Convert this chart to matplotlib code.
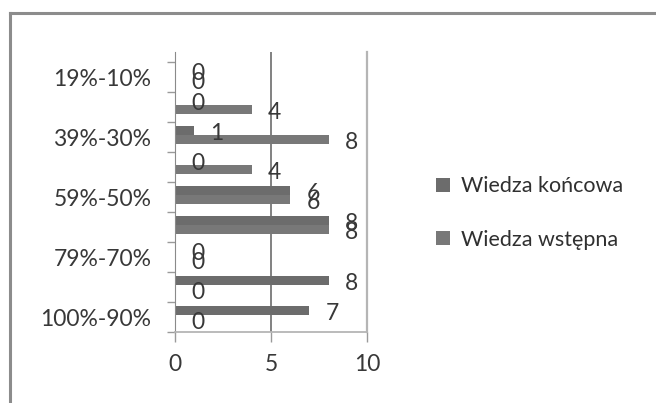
import matplotlib
matplotlib.use("Agg")
import matplotlib.pyplot as plt
from matplotlib.lines import Line2D
import numpy as np

plt.rcParams['font.family'] = ['Lato', 'DejaVu Sans']

categories = ["100%-90%", "89%-80%", "79%-70%", "69%-60%", "59%-50%",
              "49%-40%", "39%-30%", "29%-20%", "19%-10%"]
wiedza_wstepna = [0, 0, 0, 8, 6, 4, 8, 4, 0]
wiedza_koncowa = [7, 8, 0, 8, 6, 0, 1, 0, 0]
series_names = ["Wiedza końcowa", "Wiedza wstępna"]
x_ticks = [0, 5, 10]

W, H = 656, 403
fig = plt.figure(figsize=(W / 100, H / 100), dpi=100)
fig.patch.set_facecolor("white")

# outer chart border (left and top visible)
fig.add_artist(Line2D([10 / W, 10 / W], [0, 1 - 13 / H], transform=fig.transFigure,
                      color="#8c8c8c", lw=2.2))
fig.add_artist(Line2D([10 / W, 1], [1 - 13 / H, 1 - 13 / H], transform=fig.transFigure,
                      color="#8c8c8c", lw=2.2))

left, right, top, bottom = 175, 367, 52, 332
ax = fig.add_axes([left / W, 1 - bottom / H, (right - left) / W, (bottom - top) / H])
ax.set_facecolor("none")

y = np.arange(len(categories))
bh = 0.305
c_kon = "#6c6c6c"
c_wst = "#787878"
b_wst = ax.barh(y - 0.07, wiedza_wstepna, height=bh, color=c_wst,
                linewidth=0, label=series_names[1])
b_kon = ax.barh(y + 0.23, wiedza_koncowa, height=bh, color=c_kon,
                linewidth=0, label=series_names[0])

txt_color = "#383838"
for yy, v in zip(y - 0.07, wiedza_wstepna):
    ax.annotate(str(v), (v, yy), xytext=(23, -3), textcoords="offset pixels",
                ha="center", va="center", fontsize=16.5, color=txt_color)
for yy, v in zip(y + 0.23, wiedza_koncowa):
    ax.annotate(str(v), (v, yy), xytext=(23, -3), textcoords="offset pixels",
                ha="center", va="center", fontsize=16.5, color=txt_color)

ax.set_xlim(0, 10)
ax.set_ylim(-0.5, 8.5 + 10 / 30)
ax.axvline(5, color="#777777", lw=1.3, zorder=0)

ax.set_xticks(x_ticks)
ax.set_xticklabels([str(t) for t in x_ticks], fontsize=16.5, color=txt_color)
ax.tick_params(axis="x", length=7, width=1, color="#9a9a9a", pad=9)

ax.set_yticks(np.arange(-0.5, 9.0, 1.0), minor=False)
ax.set_yticklabels([])
ax.tick_params(axis="y", which="major", length=6, width=1, color="#9a9a9a")
ax.set_yticks(y[::2], minor=True)
ax.set_yticklabels([categories[i] for i in y[::2]], minor=True,
                   fontsize=16.5, color=txt_color)
ax.tick_params(axis="y", which="minor", length=0, pad=17)

ax.spines["top"].set_visible(False)
ax.spines["left"].set_color("#8a8a8a")
ax.spines["left"].set_bounds(-0.5, 8.5 + 10 / 30)
ax.spines["right"].set_color("#b5b5b5")
ax.spines["right"].set_linewidth(1.6)
ax.spines["bottom"].set_color("#b5b5b5")
ax.spines["bottom"].set_linewidth(1.3)

leg = fig.legend(handles=[b_kon, b_wst], labels=series_names, loc="center left",
                 bbox_to_anchor=(436 / W, 1 - 213 / H), frameon=False,
                 fontsize=15.5, handlelength=0.65, handleheight=0.65,
                 handletextpad=0.5, labelspacing=1.55, borderpad=0, borderaxespad=0)
for t in leg.get_texts():
    t.set_color("#303030")

fig.savefig("out.png", dpi=100)
